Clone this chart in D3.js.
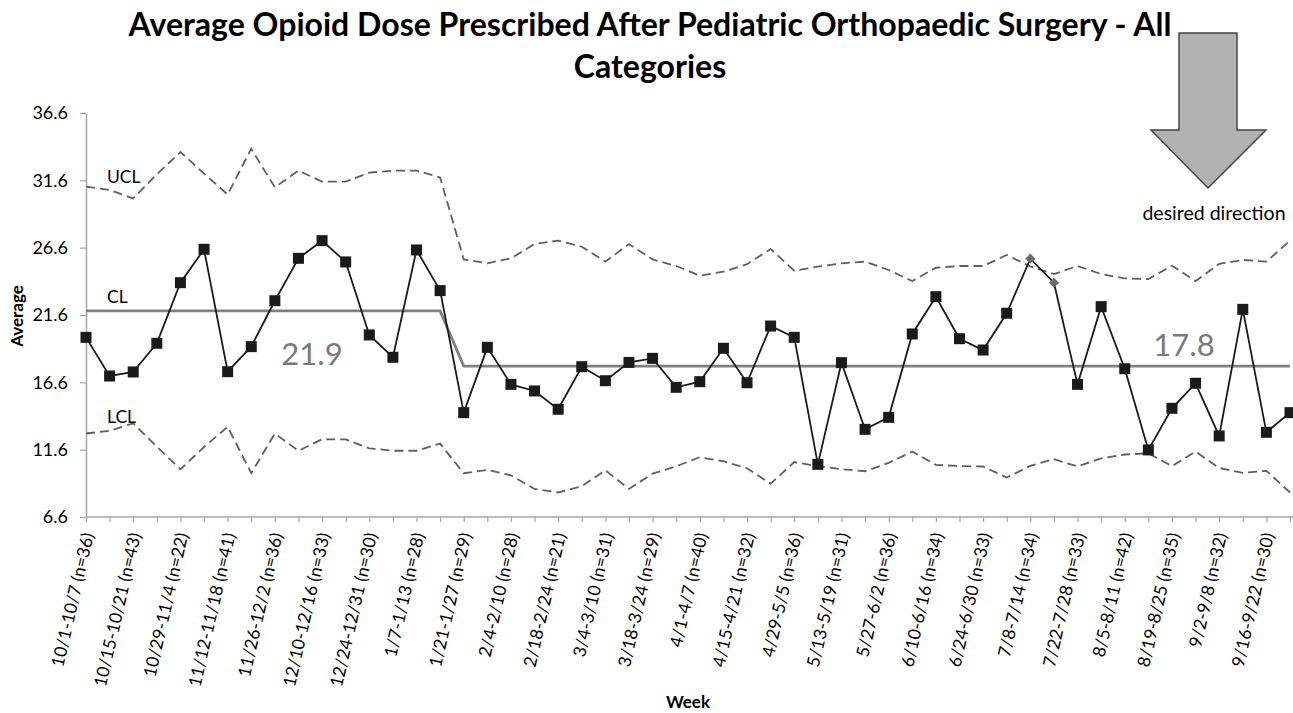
<!DOCTYPE html>
<html>
<head>
<meta charset="utf-8">
<script src="https://cdn.jsdelivr.net/npm/d3@7"></script>
<style>
    body { margin: 0; background: #fff; }
    svg { display: block; font-family: Lato, "Open Sans", sans-serif; }
</style>
</head>
<body>
<div id="chart"></div>
<script>
// tick labels, one for every second week (week 0, 2, 4 ...)
var weekLabels = [
    "10/1-10/7 (n=36)", "10/15-10/21 (n=43)", "10/29-11/4 (n=22)", "11/12-11/18 (n=41)",
    "11/26-12/2 (n=36)", "12/10-12/16 (n=33)", "12/24-12/31 (n=30)", "1/7-1/13 (n=28)",
    "1/21-1/27 (n=29)", "2/4-2/10 (n=28)", "2/18-2/24 (n=21)", "3/4-3/10 (n=31)",
    "3/18-3/24 (n=29)", "4/1-4/7 (n=40)", "4/15-4/21 (n=32)", "4/29-5/5 (n=36)",
    "5/13-5/19 (n=31)", "5/27-6/2 (n=36)", "6/10-6/16 (n=34)", "6/24-6/30 (n=33)",
    "7/8-7/14 (n=34)", "7/22-7/28 (n=33)", "8/5-8/11 (n=42)", "8/19-8/25 (n=35)",
    "9/2-9/8 (n=32)", "9/16-9/22 (n=30)"
];

// weekly average dose
var averages = [
    19.94, 17.07, 17.37, 19.5, 24.0, 26.48, 17.39, 19.25, 22.66, 25.81,
    27.12, 25.54, 20.12, 18.46, 26.43, 23.41, 14.35, 19.2, 16.45, 15.96,
    14.6, 17.76, 16.72, 18.08, 18.38, 16.23, 16.65, 19.13, 16.57, 20.78,
    19.94, 10.51, 18.06, 13.11, 14.0, 20.19, 22.96, 19.84, 19.0, 21.73,
    25.78, 24.0, 16.45, 22.22, 17.61, 11.58, 14.67, 16.53, 12.62, 22.02,
    12.89, 14.35
];

var ucl = [
    31.13, 30.88, 30.26, 32.05, 33.7, 32.1, 30.55, 33.95, 31.08, 32.32,
    31.5, 31.5, 32.17, 32.32, 32.32, 31.82, 25.73, 25.44, 25.81, 26.87,
    27.12, 26.67, 25.56, 26.87, 25.73, 25.24, 24.52, 24.82, 25.37, 26.5,
    24.89, 25.19, 25.44, 25.56, 24.94, 24.12, 25.11, 25.24, 25.24, 26.06,
    25.2, 24.64, 25.24, 24.64, 24.32, 24.27, 25.26, 24.12, 25.39, 25.69,
    25.56, 27.12
];

var lcl = [
    12.8, 13.0, 13.56, 11.82, 10.14, 11.8, 13.3, 9.85, 12.8, 11.52,
    12.37, 12.37, 11.7, 11.52, 11.52, 12.05, 9.85, 10.1, 9.7, 8.68,
    8.42, 8.88, 10.07, 8.68, 9.82, 10.37, 11.04, 10.74, 10.22, 9.07,
    10.68, 10.37, 10.15, 10.0, 10.62, 11.46, 10.47, 10.38, 10.35, 9.53,
    10.4, 10.9, 10.35, 10.96, 11.24, 11.33, 10.38, 11.46, 10.24, 9.88,
    10.03, 8.42
];

var centerLine = [
    21.9, 21.9, 21.9, 21.9, 21.9, 21.9, 21.9, 21.9, 21.9, 21.9,
    21.9, 21.9, 21.9, 21.9, 21.9, 21.9, 17.8, 17.8, 17.8, 17.8,
    17.8, 17.8, 17.8, 17.8, 17.8, 17.8, 17.8, 17.8, 17.8, 17.8,
    17.8, 17.8, 17.8, 17.8, 17.8, 17.8, 17.8, 17.8, 17.8, 17.8,
    17.8, 17.8, 17.8, 17.8, 17.8, 17.8, 17.8, 17.8, 17.8, 17.8,
    17.8, 17.8
];

// weeks flagged as special cause (drawn as grey diamonds)
var signalWeeks = [40, 41];

var yTicks = [6.6, 11.6, 16.6, 21.6, 26.6, 31.6, 36.6];

var width = 1293, height = 713;
var svg = d3.select("#chart").append("svg")
    .attr("width", width)
    .attr("height", height);

var weeks = d3.range(averages.length);
var x = d3.scalePoint().domain(weeks).range([86, 1290]);
var y = d3.scaleLinear().domain([6.6, 36.6]).range([517, 113]);

// title
var title1 = svg.append("text")
    .attr("x", 650).attr("y", 36)
    .attr("text-anchor", "middle")
    .attr("font-weight", "bold")
    .attr("font-size", 29)
    .text("Average Opioid Dose Prescribed After Pediatric Orthopaedic Surgery - All");
var fs = 29 * 1043 / title1.node().getComputedTextLength();
title1.attr("font-size", fs);
svg.append("text")
    .attr("x", 650).attr("y", 78)
    .attr("text-anchor", "middle")
    .attr("font-weight", "bold")
    .attr("font-size", fs)
    .text("Categories");

// axes
var yAxis = svg.append("g")
    .attr("transform", "translate(86,0)")
    .call(d3.axisLeft(y).tickValues(yTicks).tickSize(6).tickSizeOuter(0).tickPadding(12)
        .tickFormat(d3.format(".1f")));
yAxis.select(".domain").attr("stroke", "#a6a6a6").attr("stroke-width", 1.5);
yAxis.selectAll(".tick line").attr("stroke", "#a6a6a6").attr("stroke-width", 1.2);
yAxis.selectAll(".tick text")
    .attr("font-family", "Lato, sans-serif")
    .attr("font-size", 18)
    .attr("fill", "#000");

var xAxis = svg.append("g")
    .attr("transform", "translate(0,517)")
    .call(d3.axisBottom(x).tickSize(5).tickSizeOuter(0).tickFormat(""));
xAxis.select(".domain").attr("stroke", "#a6a6a6").attr("stroke-width", 1.5)
    .attr("d", "M86,0H1293");
xAxis.selectAll(".tick line").attr("stroke", "#a6a6a6").attr("stroke-width", 1.2);

svg.append("g")
    .selectAll("text")
    .data(weekLabels)
    .enter().append("text")
    .attr("transform", function (d, i) {
        return "translate(" + (x(i * 2) + 2) + ",533) rotate(-77)";
    })
    .attr("text-anchor", "end")
    .attr("dy", "0.35em")
    .attr("font-size", 17.5)
    .text(function (d) { return d; });

svg.append("text")
    .attr("transform", "translate(17,316) rotate(-90)")
    .attr("text-anchor", "middle")
    .attr("dy", "0.35em")
    .attr("font-weight", "bold")
    .attr("font-size", 17)
    .text("Average");

svg.append("text")
    .attr("x", 688).attr("y", 708)
    .attr("text-anchor", "middle")
    .attr("font-weight", "bold")
    .attr("font-size", 17)
    .text("Week");

// control limits
var line = d3.line()
    .x(function (d, i) { return x(i); })
    .y(function (d) { return y(d); });

[ucl, lcl].forEach(function (lim) {
    svg.append("path")
        .datum(lim)
        .attr("d", line)
        .attr("fill", "none")
        .attr("stroke", "#5f5f5f")
        .attr("stroke-width", 1.8)
        .attr("stroke-dasharray", "9,5");
});

svg.append("path")
    .datum(centerLine)
    .attr("d", line)
    .attr("fill", "none")
    .attr("stroke", "#808080")
    .attr("stroke-width", 2.8);

// data line + markers
svg.append("path")
    .datum(averages)
    .attr("d", line)
    .attr("fill", "none")
    .attr("stroke", "#1a1a1a")
    .attr("stroke-width", 1.8);

var pts = averages.map(function (v, i) { return { week: i, value: v }; });

svg.append("g")
    .selectAll("rect")
    .data(pts.filter(function (d) { return signalWeeks.indexOf(d.week) < 0; }))
    .enter().append("rect")
    .attr("x", function (d) { return x(d.week) - 5.5; })
    .attr("y", function (d) { return y(d.value) - 5.5; })
    .attr("width", 11)
    .attr("height", 11)
    .attr("fill", "#1a1a1a");

svg.append("g")
    .selectAll("rect")
    .data(pts.filter(function (d) { return signalWeeks.indexOf(d.week) >= 0; }))
    .enter().append("rect")
    .attr("x", -3.6)
    .attr("y", -3.6)
    .attr("width", 7.2)
    .attr("height", 7.2)
    .attr("transform", function (d) {
        return "translate(" + x(d.week) + "," + y(d.value) + ") rotate(45)";
    })
    .attr("fill", "#6b6b6b");

// limit names
var limitNames = [["UCL", 183], ["CL", 303], ["LCL", 423]];
limitNames.forEach(function (n) {
    svg.append("text")
        .attr("x", 107).attr("y", n[1])
        .attr("font-size", 17.5)
        .text(n[0]);
});

// centre line values
svg.append("text")
    .attr("x", 312).attr("y", 365)
    .attr("text-anchor", "middle")
    .attr("font-size", 31)
    .attr("fill", "#7a7a7a")
    .text(centerLine[0].toFixed(1));
svg.append("text")
    .attr("x", 1184).attr("y", 356)
    .attr("text-anchor", "middle")
    .attr("font-size", 31)
    .attr("fill", "#7a7a7a")
    .text(centerLine[centerLine.length - 1].toFixed(1));

// desired direction arrow
svg.append("polygon")
    .attr("points", "1179,33 1237,33 1237,130 1266,130 1208,188 1151,130 1179,130")
    .attr("fill", "#b2b2b2")
    .attr("stroke", "#454545")
    .attr("stroke-width", 1.5);

svg.append("text")
    .attr("x", 1214).attr("y", 220)
    .attr("text-anchor", "middle")
    .attr("font-size", 19.5)
    .text("desired direction");
</script>
</body>
</html>
